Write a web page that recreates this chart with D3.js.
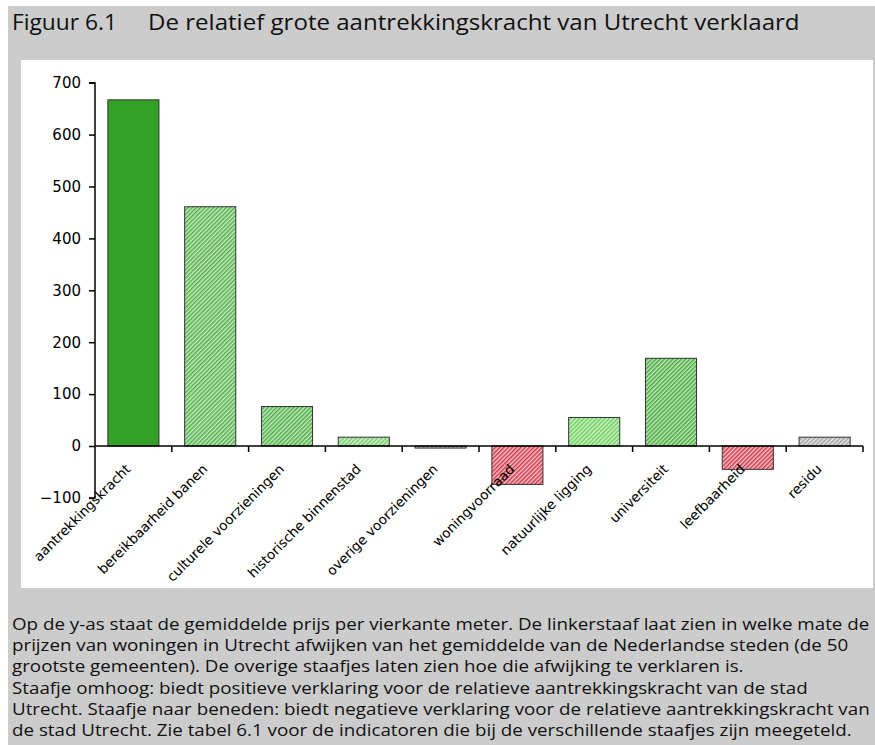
<!DOCTYPE html>
<html>
<head>
<meta charset="utf-8">
<script src="https://cdn.jsdelivr.net/npm/d3@7/dist/d3.min.js"></script>
<style>
  html, body { margin: 0; padding: 0; background: #ffffff; }
  svg { display: block; }
</style>
</head>
<body>
<svg id="chart" width="875" height="745"></svg>
<script>
// Verklarende factoren voor de prijsafwijking van Utrecht (euro per m2)
const categories = [
  "aantrekkingskracht",
  "bereikbaarheid banen",
  "culturele voorzieningen",
  "historische binnenstad",
  "overige voorzieningen",
  "woningvoorraad",
  "natuurlijke ligging",
  "universiteit",
  "leefbaarheid",
  "residu"
];
const values = [667, 461, 76, 17, -4, -74, 55, 169, -45, 17];
const yTicks = [-100, 0, 100, 200, 300, 400, 500, 600, 700];

const titleNumber = "Figuur 6.1";
const titleText = "De relatief grote aantrekkingskracht van Utrecht verklaard";
const captionLines = [
  "Op de y-as staat de gemiddelde prijs per vierkante meter. De linkerstaaf laat zien in welke mate de",
  "prijzen van woningen in Utrecht afwijken van het gemiddelde van de Nederlandse steden (de 50",
  "grootste gemeenten). De overige staafjes laten zien hoe die afwijking te verklaren is.",
  "Staafje omhoog: biedt positieve verklaring voor de relatieve aantrekkingskracht van de stad",
  "Utrecht. Staafje naar beneden: biedt negatieve verklaring voor de relatieve aantrekkingskracht van",
  "de stad Utrecht. Zie tabel 6.1 voor de indicatoren die bij de verschillende staafjes zijn meegeteld."
];

// Vulling per staaf: effen groen, of arcering (streepkleur op achtergrond)
const fills = {
  "aantrekkingskracht":      { solid: "#33a125" },
  "bereikbaarheid banen":    { line: "#4fae49", bg: "#c9ecc1" },
  "culturele voorzieningen": { line: "#4cab46", bg: "#c6ebbe" },
  "historische binnenstad":  { line: "#72c96a", bg: "#d8f3d0" },
  "overige voorzieningen":   { line: "#8f8f8f", bg: "#e0e0e0" },
  "woningvoorraad":          { line: "#d23646", bg: "#f3c6cb" },
  "natuurlijke ligging":     { line: "#68cc5a", bg: "#d4f6ca" },
  "universiteit":            { line: "#47a841", bg: "#c2e9ba" },
  "leefbaarheid":            { line: "#d23646", bg: "#f3c6cb" },
  "residu":                  { line: "#a0a0a0", bg: "#e8e8e8" }
};

const svg = d3.select("#chart");
const W = 875, H = 745;

// grijze achtergrond met wit grafiekvlak
svg.append("rect").attr("x", 0).attr("y", 0).attr("width", W).attr("height", H).attr("fill", "#ffffff");
svg.append("rect").attr("x", 8).attr("y", 6).attr("width", W - 8).attr("height", H - 6).attr("fill", "#cccccc");
svg.append("rect").attr("x", 21).attr("y", 60).attr("width", 852).attr("height", 528).attr("fill", "#ffffff");

const textFont = "'Open Sans', 'Noto Sans', sans-serif";
const chartFont = "'DejaVu Sans', Verdana, sans-serif";

// tekst in smalle letter: horizontaal samengedrukt tot de gewenste breedte
function narrowText(parent, str, x, y, size, width) {
  const g = parent.append("g");
  const t = g.append("text").attr("x", 0).attr("y", 0)
    .attr("font-family", textFont).attr("font-size", size).attr("fill", "#111")
    .text(str);
  const sx = width / t.node().getComputedTextLength();
  g.attr("transform", `translate(${x},${y}) scale(${sx},1)`);
  return g;
}

// titel
narrowText(svg, titleNumber, 12, 30, 22, 105);
narrowText(svg, titleText, 148, 30, 22, 652);

// onderschrift
const capTop = 630, capStep = 21.2;
const cap0 = svg.append("text").attr("font-family", textFont).attr("font-size", 16.5)
  .text(captionLines[0]);
const capScale = 858 / cap0.node().getComputedTextLength();
cap0.remove();
captionLines.forEach((line, i) => {
  svg.append("g")
    .attr("transform", `translate(12,${capTop + i * capStep}) scale(${capScale},1)`)
    .append("text")
    .attr("font-family", textFont).attr("font-size", 16.5).attr("fill", "#111")
    .text(line);
});

// arceringspatronen
const defs = svg.append("defs");
categories.forEach((c, i) => {
  const f = fills[c];
  if (f.solid) return;
  const p = defs.append("pattern")
    .attr("id", "hatch" + i)
    .attr("patternUnits", "userSpaceOnUse")
    .attr("width", 3).attr("height", 3)
    .attr("patternTransform", "rotate(45)");
  p.append("rect").attr("width", 3).attr("height", 3).attr("fill", f.bg);
  p.append("rect").attr("width", 1.5).attr("height", 3).attr("fill", f.line);
});

// schalen
const x0 = 95, x1 = 863;
const x = d3.scaleBand().domain(categories).range([x0, x1])
  .paddingInner(0.335).paddingOuter(0.1675);
const y = d3.scaleLinear().domain([-100, 700]).range([497.9, 82.7]);

// staven
svg.append("g").selectAll("rect").data(categories).join("rect")
  .attr("x", c => x(c))
  .attr("width", x.bandwidth())
  .attr("y", (c, i) => y(Math.max(0, values[i])))
  .attr("height", (c, i) => Math.abs(y(values[i]) - y(0)))
  .attr("fill", (c, i) => fills[c].solid || `url(#hatch${i})`)
  .attr("stroke", "#333")
  .attr("stroke-width", 1);

// y-as
const yAxis = svg.append("g").attr("transform", `translate(${x0},0)`)
  .call(d3.axisLeft(y).tickValues(yTicks).tickSize(6).tickPadding(8).tickFormat(d3.format("d")));
yAxis.select(".domain").attr("stroke", "#000").attr("stroke-width", 1.5)
  .attr("d", `M-6,${y(700)}H0V${y(-100)}H-6`);
yAxis.selectAll(".tick line").attr("stroke", "#000").attr("stroke-width", 1.5);
yAxis.selectAll(".tick text").attr("font-family", chartFont).attr("font-size", 15)
  .attr("fill", "#000");

// x-as op nul met streepjes tussen de categorieën
const xg = svg.append("g").attr("transform", `translate(0,${y(0)})`);
xg.append("line").attr("x1", x0).attr("x2", x1).attr("y1", 0).attr("y2", 0)
  .attr("stroke", "#000").attr("stroke-width", 1.5);
const bounds = d3.range(1, categories.length + 1).map(k => x0 + k * x.step());
xg.selectAll(".tk").data(bounds).join("line").attr("class", "tk")
  .attr("x1", d => d).attr("x2", d => d).attr("y1", 0).attr("y2", 6)
  .attr("stroke", "#000").attr("stroke-width", 1.5);

// categorielabels, schuin
svg.append("g").selectAll("text").data(categories).join("text")
  .attr("transform", c => `translate(${x(c) + x.bandwidth() / 2 - 2},${y(0) + 24}) rotate(-45)`)
  .attr("text-anchor", "end")
  .attr("font-family", chartFont)
  .attr("font-size", 13.5)
  .attr("fill", "#000")
  .text(c => c);
</script>
</body>
</html>
